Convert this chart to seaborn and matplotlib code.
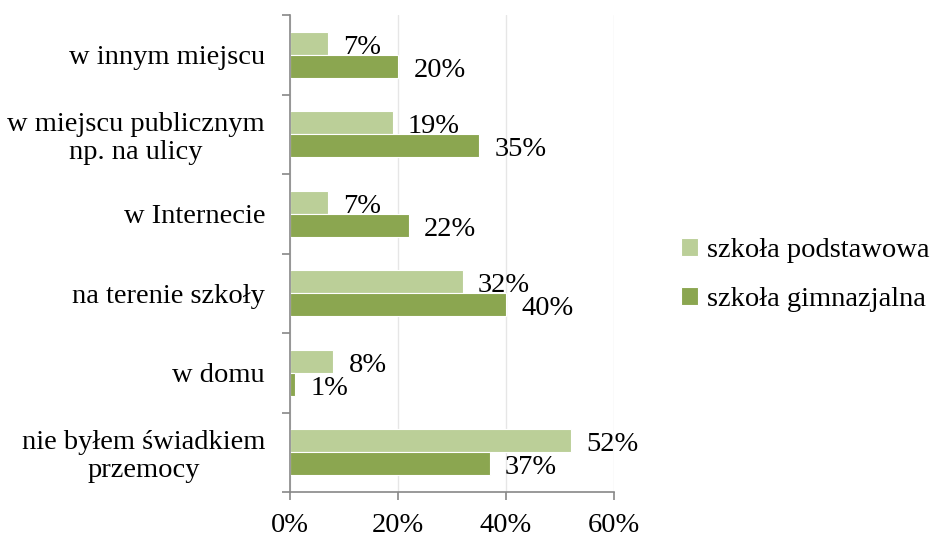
import matplotlib
matplotlib.use("Agg")
import matplotlib.pyplot as plt
import seaborn as sns
import pandas as pd
from matplotlib.ticker import FixedLocator

categories = ["w innym miejscu", "w miejscu publicznym\nnp. na ulicy", "w Internecie",
              "na terenie szkoły", "w domu", "nie byłem świadkiem\nprzemocy"]
series_names = ["szkoła podstawowa", "szkoła gimnazjalna"]
podstawowa = [7, 19, 7, 32, 8, 52]
gimnazjalna = [20, 35, 22, 40, 1, 37]
xtick_values = [0, 20, 40, 60]
xtick_labels = ["0%", "20%", "40%", "60%"]

colors = ["#BBCF98", "#8BA650"]

df = pd.DataFrame({
    "cat": categories * 2,
    "series": [series_names[0]] * len(categories) + [series_names[1]] * len(categories),
    "val": podstawowa + gimnazjalna,
})

sns.set_style("white")
FONT = "Liberation Serif"
plt.rcParams["font.family"] = [FONT, "DejaVu Serif"]
plt.rcParams["text.color"] = "black"
plt.rcParams["xtick.labelcolor"] = "black"
plt.rcParams["ytick.labelcolor"] = "black"
FS = 20.5

fig = plt.figure(figsize=(9.3, 5.4), dpi=100)
ax = fig.add_axes([290 / 930, 1 - 492 / 540, (614 - 290) / 930, (492 - 15) / 540])

sns.barplot(data=df, y="cat", x="val", hue="series", order=categories,
            hue_order=series_names, palette=colors, width=0.58, orient="h",
            edgecolor="white", linewidth=0.8, ax=ax, legend=True, saturation=1)

ax.set_xlim(0, 60)
ax.set_ylim(len(categories) - 0.5, -0.5)
ax.set_xlabel("")
ax.set_ylabel("")
ax.set_xticks(xtick_values)
ax.set_xticklabels(xtick_labels, fontsize=FS)
ax.xaxis.grid(True, color="#E6E6E6", linewidth=1)
ax.set_axisbelow(True)

ax.yaxis.set_minor_locator(FixedLocator([i - 0.5 for i in range(len(categories) + 1)]))
ax.tick_params(axis="y", which="major", length=0, pad=18, labelsize=FS)
ax.tick_params(axis="y", which="minor", length=6, color="#888888", width=1.2, left=True)
ax.tick_params(axis="x", which="major", length=6, color="#888888", width=1.2, bottom=True,
               pad=9)
for lbl in ax.get_yticklabels():
    lbl.set_multialignment("center")
    lbl.set_linespacing(1.15)

for s in ["top", "right"]:
    ax.spines[s].set_visible(False)
for s in ["left", "bottom"]:
    ax.spines[s].set_color("#888888")
    ax.spines[s].set_linewidth(1.2)

for container in ax.containers:
    for patch, v in zip(container.patches, container.datavalues):
        ax.annotate(f"{v:.0f}%", xy=(patch.get_x() + patch.get_width(),
                                     patch.get_y() + patch.get_height() / 2),
                    xytext=(11, -3), textcoords="offset points",
                    ha="left", va="center", fontsize=FS, color="black")

handles, labs = ax.get_legend_handles_labels()
ax.get_legend().remove()
fig.legend(handles, labs, loc="center left", bbox_to_anchor=(681 / 930, 1 - 275 / 540),
           frameon=False, fontsize=FS, handlelength=0.6, handleheight=0.6,
           handletextpad=0.3, labelspacing=0.85, borderaxespad=0, borderpad=0)

fig.savefig("out.png", dpi=100)
